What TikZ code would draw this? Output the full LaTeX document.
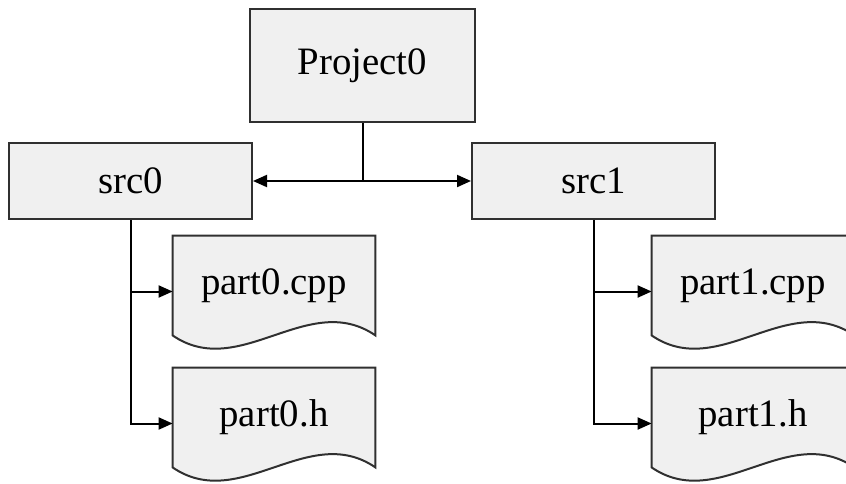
\documentclass[tikz,border=0pt]{standalone}
\usepackage{fontspec}
\setmainfont{Liberation Serif}
\usepackage{xcolor}
\usetikzlibrary{arrows.meta, positioning, calc, backgrounds}
\definecolor{boxgray}{HTML}{F0F0F0}
\definecolor{edgegray}{HTML}{303030}

\begin{document}
\begin{tikzpicture}[x=0.5pt, y=-0.5pt,
    every node/.style={font=\fontsize{19.4}{23}\selectfont},
    folder/.style={rectangle, draw=edgegray, fill=boxgray, line width=1pt, inner sep=0pt},
    doc/.style={rectangle, inner sep=0pt, minimum width=101pt, minimum height=49.5pt},
    link/.style={line width=1pt, -{Triangle[length=7pt, width=6pt]}}]
    \useasboundingbox (0,0) rectangle (846,483);
    \node[folder, minimum width=112.5pt, minimum height=56.5pt] (proj) at (362.5,65.5) {Project0};
    \node[folder, minimum width=121.5pt, minimum height=38pt] (src0) at (130.5,181) {src0};
    \node[folder, minimum width=121.5pt, minimum height=38pt] (src1) at (593.5,181) {src1};
    \node[doc] (p0c) at (274,285.5) {\raisebox{2pt}{part0.cpp}};
    \node[doc] (p0h) at (274,417.5) {\raisebox{2pt}{part0.h}};
    \node[doc] (p1c) at (753,285.5) {\raisebox{2pt}{part1.cpp}};
    \node[doc] (p1h) at (753,417.5) {\raisebox{2pt}{part1.h}};
    % page shapes with a wavy lower edge
    \begin{scope}[on background layer]
        \foreach \d in {p0c,p0h,p1c,p1h}
            \draw[draw=edgegray, fill=boxgray, line width=1pt]
                (\d.south west) -- (\d.north west) -- (\d.north east) -- (\d.south east)
                .. controls +(-67,-46) and ($(\d.south west)+(67,46)$) .. (\d.south west) -- cycle;
    \end{scope}
    \coordinate (hub) at (proj.south |- src0.east);
    \draw[line width=1pt] (proj.south) -- (hub);
    \draw[link] (hub) -- (src0.east);
    \draw[link] (hub) -- (src1.west);
    \draw[link] (src0.south) |- ($(p0c.west)+(0,6)$);
    \draw[link] (src0.south) |- ($(p0h.west)+(0,6)$);
    \draw[link] (src1.south) |- ($(p1c.west)+(0,6)$);
    \draw[link] (src1.south) |- ($(p1h.west)+(0,6)$);
\end{tikzpicture}
\end{document}
